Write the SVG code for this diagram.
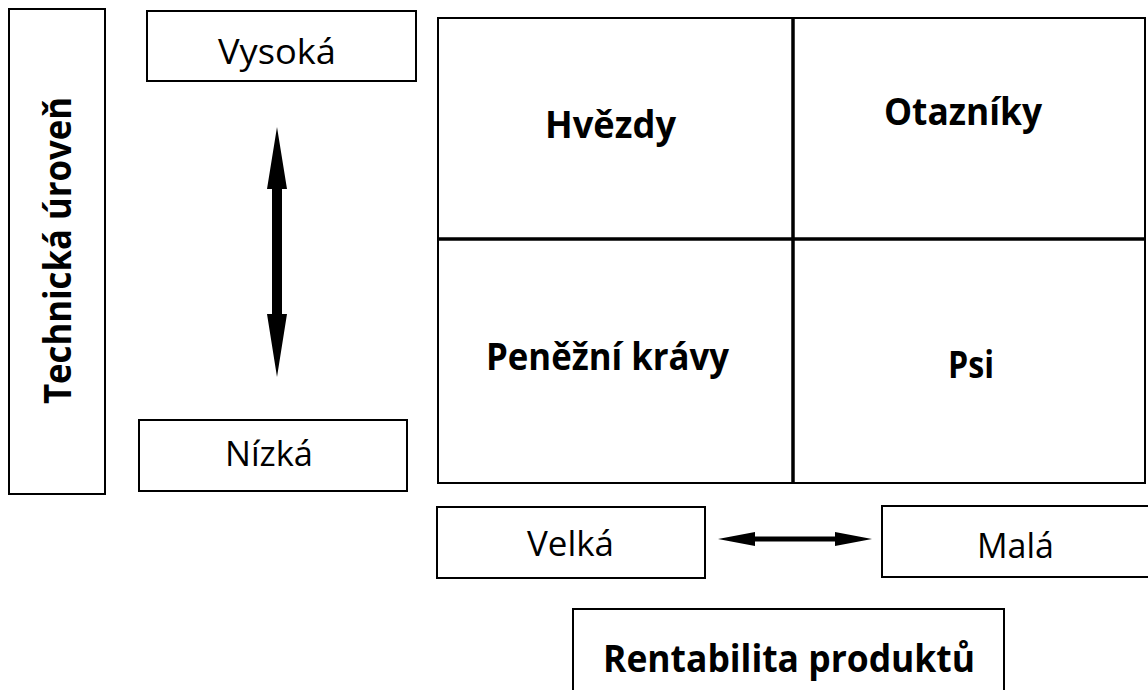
<svg xmlns="http://www.w3.org/2000/svg" width="1148" height="690" viewBox="0 0 1148 690">
<style>
.box{fill:#fff;stroke:#000;stroke-width:2}
.reg{font-family:"Open Sans","Noto Sans",sans-serif;font-size:35px;fill:#000}
.bold{font-family:"Open Sans","Noto Sans",sans-serif;font-size:37px;font-weight:bold;fill:#000}
.div{stroke:#000;stroke-width:3.5}
.arr{fill:#000}
</style>
<rect width="1148" height="690" fill="#fff"/>
<g id="axis-y">
<rect class="box" x="9" y="9" width="96" height="485"/>
<text class="bold" transform="translate(71,404) rotate(-90)" textLength="307" lengthAdjust="spacingAndGlyphs">Technická úroveň</text>
</g>
<g id="vysoka">
<rect class="box" x="147" y="11" width="269" height="70"/>
<text class="reg" x="218" y="64" textLength="118" lengthAdjust="spacingAndGlyphs">Vysoká</text>
</g>
<g id="nizka">
<rect class="box" x="139" y="420" width="268" height="71"/>
<text class="reg" x="225" y="466" textLength="88" lengthAdjust="spacingAndGlyphs">Nízká</text>
</g>
<g id="matrix">
<rect class="box" x="438" y="18" width="707" height="465"/>
<line class="div" x1="793" y1="18" x2="793" y2="483"/>
<line class="div" x1="438" y1="239" x2="1145" y2="239"/>
</g>
<g id="hvezdy">
<text class="bold" x="545" y="138" textLength="131" lengthAdjust="spacingAndGlyphs">Hvězdy</text>
</g>
<g id="otazniky">
<text class="bold" x="884" y="125" textLength="158" lengthAdjust="spacingAndGlyphs">Otazníky</text>
</g>
<g id="penezni-kravy">
<text class="bold" x="486" y="370" textLength="243" lengthAdjust="spacingAndGlyphs">Peněžní krávy</text>
</g>
<g id="psi">
<text class="bold" x="948" y="378" textLength="46" lengthAdjust="spacingAndGlyphs">Psi</text>
</g>
<g id="velka">
<rect class="box" x="437" y="507" width="268" height="71"/>
<text class="reg" x="527" y="556" textLength="87" lengthAdjust="spacingAndGlyphs">Velká</text>
</g>
<g id="mala">
<rect class="box" x="882" y="506" width="270" height="71"/>
<text class="reg" x="977" y="558" textLength="77" lengthAdjust="spacingAndGlyphs">Malá</text>
</g>
<g id="axis-x">
<rect class="box" x="573" y="609" width="431" height="90"/>
<text class="bold" x="603" y="672" textLength="372" lengthAdjust="spacingAndGlyphs">Rentabilita produktů</text>
</g>
<g id="connectors">
<polygon class="arr" points="277,127 287,189 282,189 282,314 287,314 277,377 267,314 272,314 272,189 267,189"/>
<polygon class="arr" points="718,539 755,532 755,536.5 835,536.5 835,532 872,539 835,546 835,541.5 755,541.5 755,546"/>
</g>
</svg>
